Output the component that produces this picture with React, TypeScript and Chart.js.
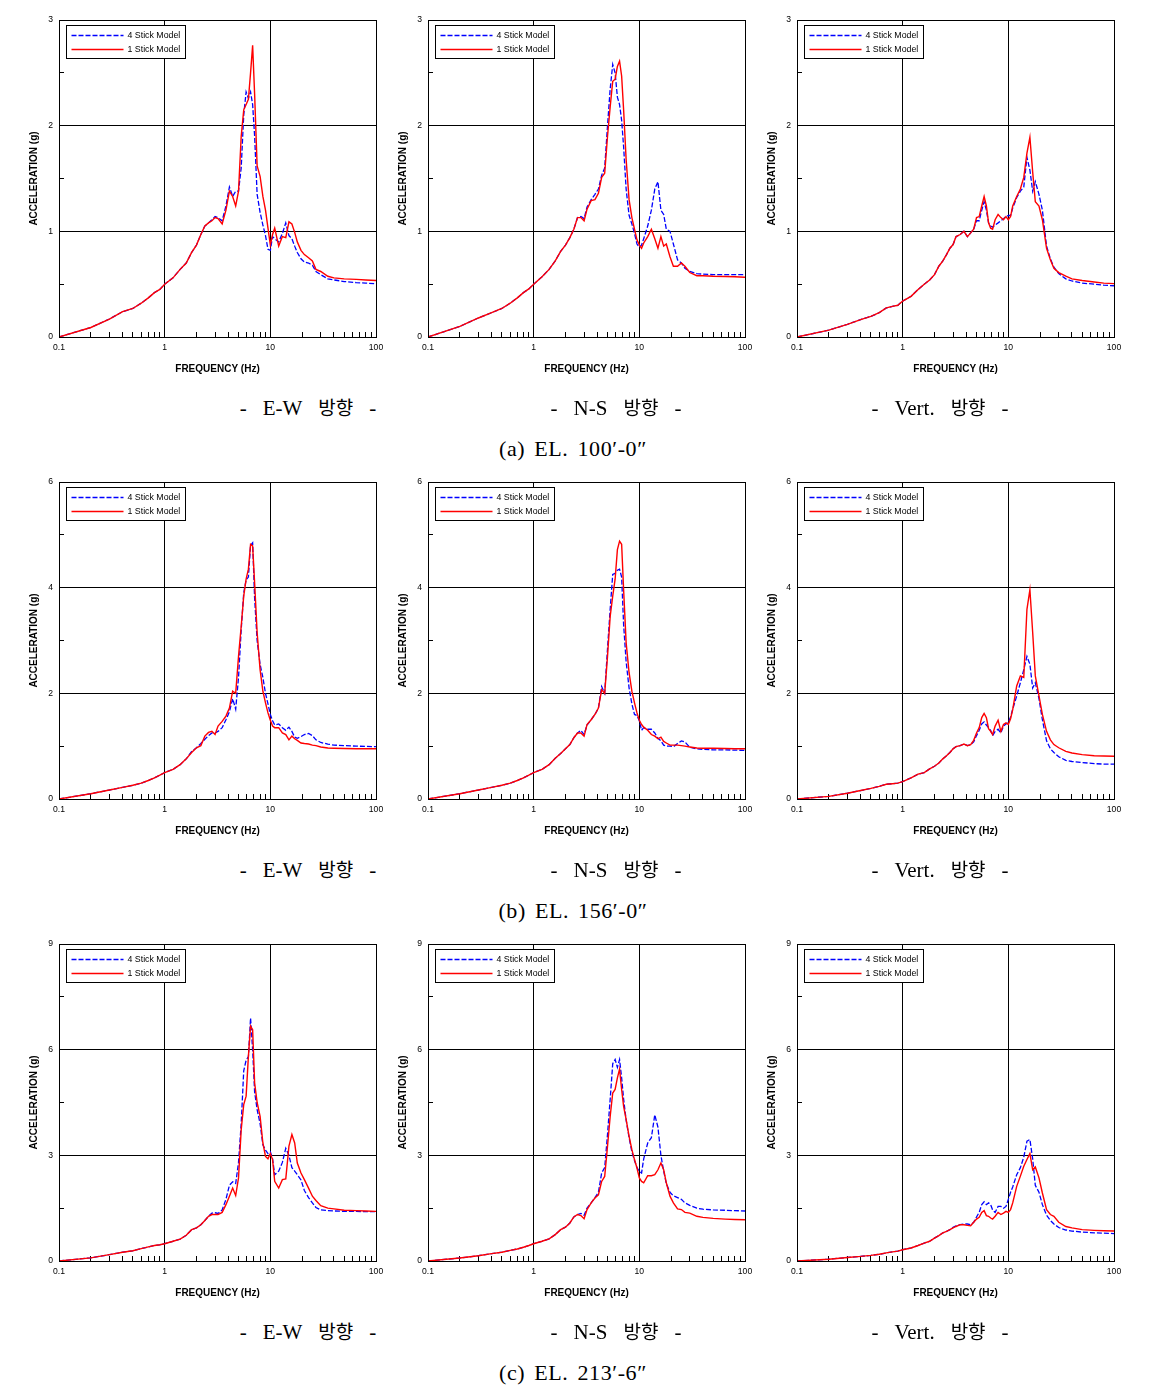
import React, { useEffect, useRef } from 'react';
import { Chart, registerables } from 'chart.js';
Chart.register(...registerables);

// ---------- data ----------
const FREQ = [0.1, 0.2, 0.3, 0.4, 0.5, 0.6, 0.7, 0.8, 0.9, 1.0,
  1.2, 1.4, 1.6, 1.8, 2.0, 2.2, 2.4, 2.6, 2.8, 3.0,
  3.2, 3.5, 3.8, 4.1, 4.4, 4.7, 5.0, 5.3, 5.6, 5.9,
  6.2, 6.5, 6.8, 7.1, 7.5, 8.0, 8.5, 9.0, 9.5, 10,
  10.5, 11, 12, 13, 14, 15, 16, 17, 18, 19.5,
  21, 23, 25, 27, 30, 35, 40, 50, 65, 80, 100];

// (a) EL. 100'-0"
const EW_100_FOUR = [0.0, 0.09, 0.17, 0.24, 0.27, 0.32, 0.37, 0.42, 0.45, 0.50,
  0.56, 0.64, 0.70, 0.80, 0.87, 0.97, 1.05, 1.08, 1.11, 1.14,
  1.13, 1.10, 1.24, 1.42, 1.33, 1.38, 1.38, 1.60, 2.10, 2.32,
  2.26, 2.32, 2.20, 1.90, 1.35, 1.18, 1.06, 0.96, 0.83, 0.82,
  0.95, 0.93, 0.90, 0.98, 1.08, 0.96, 0.93, 0.86, 0.80, 0.74,
  0.71, 0.70, 0.68, 0.62, 0.59, 0.55, 0.54, 0.525, 0.515, 0.51, 0.505];
const EW_100_ONE = [0.0, 0.09, 0.17, 0.24, 0.27, 0.32, 0.37, 0.42, 0.45, 0.50,
  0.56, 0.64, 0.70, 0.80, 0.87, 0.97, 1.05, 1.08, 1.10, 1.13,
  1.12, 1.07, 1.20, 1.38, 1.33, 1.24, 1.38, 1.90, 2.15, 2.20,
  2.25, 2.50, 2.76, 2.30, 1.62, 1.52, 1.33, 1.20, 1.03, 0.87,
  0.97, 1.03, 0.86, 0.95, 0.94, 1.09, 1.07, 0.99, 0.90, 0.82,
  0.78, 0.75, 0.72, 0.64, 0.62, 0.575, 0.56, 0.55, 0.545, 0.54, 0.535];
const NS_100_FOUR = [0.0, 0.10, 0.18, 0.23, 0.27, 0.32, 0.37, 0.42, 0.455, 0.50,
  0.57, 0.64, 0.72, 0.81, 0.87, 0.94, 1.02, 1.13, 1.14, 1.12,
  1.23, 1.30, 1.35, 1.40, 1.53, 1.60, 2.00, 2.35, 2.58, 2.50,
  2.27, 2.20, 2.05, 1.80, 1.40, 1.15, 1.07, 0.98, 0.88, 0.85,
  0.87, 0.93, 1.05, 1.20, 1.40, 1.47, 1.20, 1.16, 1.02, 1.00,
  0.88, 0.73, 0.70, 0.65, 0.62, 0.60, 0.595, 0.59, 0.59, 0.59, 0.59];
const NS_100_ONE = [0.0, 0.10, 0.18, 0.23, 0.27, 0.32, 0.37, 0.42, 0.455, 0.50,
  0.57, 0.64, 0.72, 0.81, 0.87, 0.94, 1.02, 1.13, 1.13, 1.10,
  1.21, 1.29, 1.30, 1.36, 1.51, 1.55, 1.90, 2.18, 2.42, 2.44,
  2.56, 2.61, 2.47, 2.15, 1.68, 1.30, 1.13, 1.02, 0.92, 0.87,
  0.84, 0.89, 0.95, 1.02, 0.93, 0.84, 0.95, 0.86, 0.88, 0.76,
  0.67, 0.67, 0.70, 0.67, 0.61, 0.58, 0.58, 0.575, 0.572, 0.57, 0.565];
const VT_100_FOUR = [0.0, 0.065, 0.12, 0.165, 0.195, 0.23, 0.275, 0.29, 0.30, 0.34,
  0.385, 0.45, 0.50, 0.54, 0.59, 0.67, 0.72, 0.78, 0.84, 0.875,
  0.95, 0.97, 1.00, 0.95, 0.985, 1.02, 1.10, 1.10, 1.20, 1.28,
  1.20, 1.08, 1.05, 1.04, 1.06, 1.08, 1.10, 1.12, 1.14, 1.15,
  1.15, 1.22, 1.32, 1.38, 1.42, 1.70, 1.58, 1.38, 1.47, 1.35,
  1.20, 0.86, 0.74, 0.66, 0.60, 0.55, 0.53, 0.51, 0.50, 0.49, 0.485];
const VT_100_ONE = [0.0, 0.065, 0.12, 0.165, 0.195, 0.23, 0.275, 0.29, 0.30, 0.34,
  0.385, 0.45, 0.50, 0.54, 0.59, 0.67, 0.72, 0.78, 0.84, 0.875,
  0.95, 0.97, 1.00, 0.95, 0.985, 1.02, 1.13, 1.14, 1.24, 1.33,
  1.24, 1.08, 1.03, 1.02, 1.11, 1.16, 1.13, 1.11, 1.14, 1.11,
  1.14, 1.24, 1.33, 1.40, 1.51, 1.74, 1.89, 1.56, 1.28, 1.24,
  1.11, 0.84, 0.73, 0.65, 0.61, 0.575, 0.55, 0.535, 0.52, 0.51, 0.505];

// (b) EL. 156'-0"
const EW_156_FOUR = [0.0, 0.10, 0.17, 0.22, 0.26, 0.30, 0.35, 0.40, 0.45, 0.50,
  0.56, 0.65, 0.76, 0.90, 0.97, 1.05, 1.13, 1.20, 1.25, 1.25,
  1.28, 1.35, 1.50, 1.65, 1.90, 1.70, 2.30, 3.20, 3.90, 4.15,
  4.20, 4.80, 4.85, 3.80, 3.00, 2.55, 2.30, 2.00, 1.80, 1.60,
  1.48, 1.40, 1.42, 1.35, 1.30, 1.36, 1.28, 1.17, 1.15, 1.18,
  1.22, 1.24, 1.20, 1.12, 1.07, 1.04, 1.02, 1.01, 1.00, 0.995, 0.99];
const EW_156_ONE = [0.0, 0.10, 0.17, 0.22, 0.26, 0.30, 0.35, 0.40, 0.45, 0.50,
  0.56, 0.65, 0.76, 0.88, 0.97, 1.01, 1.19, 1.26, 1.28, 1.22,
  1.38, 1.47, 1.57, 1.72, 2.04, 2.00, 2.70, 3.27, 3.84, 4.16,
  4.35, 4.82, 4.79, 4.09, 3.15, 2.45, 2.04, 1.82, 1.63, 1.49,
  1.38, 1.35, 1.35, 1.25, 1.22, 1.12, 1.19, 1.14, 1.11, 1.06,
  1.05, 1.04, 1.02, 1.01, 0.985, 0.965, 0.96, 0.955, 0.95, 0.95, 0.95];
const NS_156_FOUR = [0.0, 0.10, 0.17, 0.22, 0.26, 0.30, 0.35, 0.40, 0.45, 0.50,
  0.56, 0.65, 0.77, 0.86, 0.95, 1.03, 1.16, 1.25, 1.30, 1.22,
  1.40, 1.50, 1.60, 1.72, 2.13, 2.00, 2.85, 3.60, 4.25, 4.27,
  4.33, 4.35, 4.20, 3.30, 2.60, 2.10, 1.80, 1.60, 1.58, 1.48,
  1.30, 1.35, 1.32, 1.32, 1.25, 1.15, 1.10, 1.02, 1.00, 1.00,
  0.99, 1.05, 1.10, 1.08, 0.98, 0.95, 0.94, 0.93, 0.93, 0.925, 0.92];
const NS_156_ONE = [0.0, 0.10, 0.17, 0.22, 0.26, 0.30, 0.35, 0.40, 0.45, 0.50,
  0.56, 0.65, 0.77, 0.86, 0.95, 1.03, 1.16, 1.25, 1.25, 1.19,
  1.41, 1.50, 1.60, 1.72, 2.07, 2.00, 2.70, 3.46, 3.84, 4.16,
  4.72, 4.88, 4.82, 3.96, 2.96, 2.39, 2.04, 1.82, 1.63, 1.49,
  1.41, 1.36, 1.30, 1.22, 1.19, 1.14, 1.17, 1.09, 1.06, 1.02,
  1.02, 1.02, 1.01, 1.00, 0.985, 0.965, 0.96, 0.96, 0.955, 0.95, 0.95];
const VT_156_FOUR = [0.0, 0.05, 0.11, 0.16, 0.20, 0.24, 0.28, 0.29, 0.30, 0.33,
  0.40, 0.47, 0.50, 0.57, 0.62, 0.68, 0.76, 0.82, 0.88, 0.95,
  0.99, 1.01, 1.04, 1.01, 1.03, 1.08, 1.20, 1.30, 1.42, 1.46,
  1.40, 1.35, 1.30, 1.20, 1.28, 1.32, 1.25, 1.38, 1.42, 1.45,
  1.55, 1.70, 1.95, 2.20, 2.45, 2.70, 2.55, 2.10, 2.20, 1.90,
  1.50, 1.10, 0.95, 0.88, 0.80, 0.73, 0.71, 0.69, 0.67, 0.66, 0.66];
const VT_156_ONE = [0.0, 0.05, 0.11, 0.16, 0.20, 0.24, 0.28, 0.29, 0.30, 0.33,
  0.40, 0.47, 0.50, 0.57, 0.62, 0.68, 0.76, 0.82, 0.88, 0.95,
  0.99, 1.01, 1.04, 1.01, 1.03, 1.11, 1.25, 1.35, 1.54, 1.62,
  1.54, 1.33, 1.28, 1.22, 1.38, 1.49, 1.28, 1.41, 1.44, 1.41,
  1.52, 1.69, 2.14, 2.33, 2.30, 3.59, 3.96, 3.15, 2.33, 1.95,
  1.60, 1.28, 1.12, 1.03, 0.97, 0.90, 0.87, 0.84, 0.82, 0.815, 0.81];

// (c) EL. 213'-6"
const EW_213_FOUR = [0.0, 0.09, 0.18, 0.25, 0.29, 0.35, 0.40, 0.44, 0.46, 0.49,
  0.56, 0.62, 0.73, 0.89, 0.94, 1.03, 1.15, 1.27, 1.36, 1.37,
  1.35, 1.45, 1.75, 2.15, 2.25, 2.20, 2.80, 3.90, 5.40, 5.70,
  5.80, 6.90, 6.00, 4.80, 4.30, 3.90, 3.30, 3.15, 3.05, 3.10,
  2.90, 2.45, 2.55, 2.80, 3.20, 3.00, 2.65, 2.55, 2.45, 2.30,
  2.00, 1.80, 1.65, 1.52, 1.45, 1.43, 1.42, 1.41, 1.41, 1.40, 1.40];
const EW_213_ONE = [0.0, 0.09, 0.18, 0.25, 0.29, 0.35, 0.40, 0.44, 0.46, 0.49,
  0.56, 0.62, 0.73, 0.89, 0.94, 1.03, 1.15, 1.27, 1.32, 1.32,
  1.32, 1.38, 1.60, 1.84, 2.07, 1.86, 2.36, 3.73, 4.44, 4.68,
  5.81, 6.67, 6.57, 5.06, 4.50, 4.11, 3.35, 2.97, 2.90, 3.05,
  2.88, 2.26, 2.07, 2.31, 2.33, 3.26, 3.59, 3.35, 2.78, 2.50,
  2.31, 2.07, 1.84, 1.72, 1.57, 1.50, 1.48, 1.44, 1.43, 1.42, 1.41];
const NS_213_FOUR = [0.0, 0.085, 0.15, 0.21, 0.25, 0.30, 0.34, 0.39, 0.44, 0.49,
  0.56, 0.63, 0.75, 0.89, 0.96, 1.08, 1.25, 1.32, 1.35, 1.30,
  1.50, 1.65, 1.80, 1.95, 2.50, 2.65, 3.60, 4.60, 5.60, 5.72,
  5.50, 5.72, 5.20, 4.60, 4.00, 3.50, 3.10, 2.85, 2.65, 2.55,
  2.50, 2.90, 3.35, 3.50, 4.15, 3.80, 3.00, 2.55, 2.20, 1.95,
  1.85, 1.80, 1.75, 1.65, 1.58, 1.50, 1.47, 1.45, 1.44, 1.43, 1.42];
const NS_213_ONE = [0.0, 0.085, 0.15, 0.21, 0.25, 0.30, 0.34, 0.39, 0.44, 0.49,
  0.56, 0.63, 0.75, 0.89, 0.96, 1.08, 1.25, 1.32, 1.29, 1.20,
  1.46, 1.65, 1.79, 1.88, 2.26, 2.40, 3.26, 4.11, 4.77, 4.87,
  5.20, 5.45, 4.87, 4.39, 4.02, 3.54, 3.16, 2.88, 2.64, 2.36,
  2.26, 2.22, 2.42, 2.42, 2.45, 2.59, 2.78, 2.59, 2.22, 1.84,
  1.65, 1.48, 1.46, 1.38, 1.36, 1.27, 1.24, 1.21, 1.19, 1.18, 1.17];
const VT_213_FOUR = [0.0, 0.05, 0.10, 0.13, 0.16, 0.19, 0.23, 0.26, 0.28, 0.32,
  0.37, 0.44, 0.51, 0.56, 0.65, 0.72, 0.80, 0.84, 0.89, 0.96,
  1.00, 1.03, 1.05, 1.05, 1.03, 1.10, 1.25, 1.38, 1.60, 1.68,
  1.60, 1.65, 1.60, 1.45, 1.38, 1.55, 1.55, 1.50, 1.55, 1.75,
  1.95, 2.10, 2.45, 2.65, 2.95, 3.40, 3.45, 2.90, 2.15, 1.95,
  1.60, 1.30, 1.15, 1.05, 0.95, 0.88, 0.85, 0.82, 0.80, 0.79, 0.78];
const VT_213_ONE = [0.0, 0.05, 0.10, 0.13, 0.16, 0.19, 0.23, 0.26, 0.28, 0.32,
  0.37, 0.44, 0.51, 0.56, 0.65, 0.72, 0.80, 0.84, 0.89, 0.94,
  0.98, 1.03, 1.03, 1.01, 1.00, 1.10, 1.19, 1.24, 1.38, 1.43,
  1.29, 1.27, 1.22, 1.19, 1.27, 1.38, 1.32, 1.36, 1.41, 1.38,
  1.46, 1.65, 2.12, 2.41, 2.69, 2.88, 3.05, 2.59, 2.67, 2.36,
  1.93, 1.46, 1.32, 1.27, 1.10, 0.98, 0.94, 0.89, 0.87, 0.86, 0.85];

const Y_MAX = [3, 6, 9];
const X_TICKS = [0.1, 0.2, 0.3, 0.4, 0.5, 0.6, 0.7, 0.8, 0.9, 1, 2, 3, 4, 5, 6, 7, 8, 9, 10, 20, 30, 40, 50, 60, 70, 80, 90, 100];
const X_LABELS = [0.1, 1, 10, 100];
const X_GRID = [1, 10];
const SERIES_LABELS = ['4 Stick Model', '1 Stick Model'];
const DIRECTIONS = ['E-W', 'N-S', 'Vert.'];
const DIRECTION_WORD = '방향';
const ELEVATIONS = [['(a)', 'EL.', '100′-0″'], ['(b)', 'EL.', '156′-0″'], ['(c)', 'EL.', '213′-6″']];
const X_TITLE = 'FREQUENCY (Hz)';
const Y_TITLE = 'ACCELERATION (g)';

const PANELS = [
  [[EW_100_FOUR, EW_100_ONE], [NS_100_FOUR, NS_100_ONE], [VT_100_FOUR, VT_100_ONE]],
  [[EW_156_FOUR, EW_156_ONE], [NS_156_FOUR, NS_156_ONE], [VT_156_FOUR, VT_156_ONE]],
  [[EW_213_FOUR, EW_213_ONE], [NS_213_FOUR, NS_213_ONE], [VT_213_FOUR, VT_213_ONE]],
];

// ---------- layout ----------
const PLOT_LEFT = [59, 428, 797];
const PLOT_TOP = [20, 482, 944];
const PLOT_SIZE = 317;
const PAD_L = 59, PAD_T = 20, PAD_R = 20, PAD_B = 50;
const DIR_CX = [308, 616, 940];
const DIR_CY = [407, 869, 1331];
const ELEV_CX = 573;
const ELEV_CY = [449, 911, 1373];

const SANS = '"Liberation Sans", Arial, sans-serif';
const CLEAR = 'rgba(0,0,0,0)';

const framePlugin = {
  id: 'frameLegend',
  afterDraw(chart: any) {
    const { ctx, chartArea: a } = chart;
    ctx.save();
    ctx.setLineDash([]);
    ctx.strokeStyle = '#000';
    ctx.lineWidth = 1;
    const l = Math.round(a.left - 0.5) + 0.5;
    const t = Math.round(a.top - 0.5) + 0.5;
    const r = Math.round(a.right - 0.5) + 0.5;
    const b = Math.round(a.bottom - 0.5) + 0.5;
    ctx.strokeRect(l, t, r - l, b - t);
    // legend box
    const bx = l + 7, by = t + 5, bw = 119, bh = 33;
    ctx.fillStyle = '#fff';
    ctx.fillRect(bx, by, bw, bh);
    ctx.strokeRect(bx, by, bw, bh);
    chart.data.datasets.forEach((ds: any, i: number) => {
      const y = Math.round(by + 9.5 + i * 13.5) + 0.5;
      ctx.beginPath();
      ctx.setLineDash(ds.borderDash || []);
      ctx.strokeStyle = ds.borderColor;
      ctx.lineWidth = 1.6;
      ctx.moveTo(bx + 5, y);
      ctx.lineTo(bx + 57, y);
      ctx.stroke();
      ctx.setLineDash([]);
      ctx.fillStyle = '#000';
      ctx.font = '8.8px ' + SANS;
      ctx.textBaseline = 'middle';
      ctx.textAlign = 'left';
      ctx.fillText(ds.label, bx + 61, y);
    });
    ctx.restore();
  },
};

function Panel({ row, col }: { row: number; col: number }) {
  const ref = useRef<HTMLCanvasElement>(null);
  const ymax = Y_MAX[row];
  const [four, one] = PANELS[row][col];
  const W = PAD_L + PLOT_SIZE + PAD_R;
  const H = PAD_T + PLOT_SIZE + PAD_B;
  useEffect(() => {
    const step = ymax / 6;
    const major = ymax / 3;
    const isMajorY = (v: number) => Math.abs(v / major - Math.round(v / major)) < 1e-6;
    const chart = new Chart(ref.current as HTMLCanvasElement, {
      type: 'line',
      data: {
        datasets: [
          {
            label: SERIES_LABELS[0],
            data: FREQ.map((f, i) => ({ x: f, y: four[i] })),
            borderColor: '#0000ff',
            borderDash: [5, 2],
            borderWidth: 1.3,
            pointRadius: 0,
            tension: 0,
            order: 1,
          },
          {
            label: SERIES_LABELS[1],
            data: FREQ.map((f, i) => ({ x: f, y: one[i] })),
            borderColor: '#ff0000',
            borderWidth: 1.4,
            pointRadius: 0,
            tension: 0,
            order: 0,
          },
        ],
      } as any,
      options: {
        animation: false,
        responsive: false,
        maintainAspectRatio: false,
        devicePixelRatio: 1,
        layout: { padding: { left: 0, top: PAD_T, right: PAD_R, bottom: 0 } },
        plugins: { legend: { display: false }, tooltip: { enabled: false } },
        scales: {
          x: {
            type: 'logarithmic',
            min: 0.1,
            max: 100,
            afterBuildTicks: (s: any) => { s.ticks = X_TICKS.map((v) => ({ value: v })); },
            afterFit: (s: any) => { s.height = PAD_B; },
            ticks: {
              autoSkip: false,
              maxRotation: 0,
              minRotation: 0,
              padding: 10,
              color: '#000',
              font: { family: SANS, size: 8.6 },
              callback: (v: any) => (X_LABELS.includes(Number(v)) ? String(v) : ''),
            },
            grid: {
              color: (c: any) => (c.tick && X_GRID.includes(c.tick.value) ? '#000' : CLEAR),
              tickColor: '#000',
              tickLength: -5,
              lineWidth: 1,
            },
            border: { display: false },
            title: {
              display: true,
              text: X_TITLE,
              color: '#000',
              font: { family: SANS, size: 10, weight: 'bold' },
              padding: { top: 0, bottom: 12 },
            },
          },
          y: {
            type: 'linear',
            min: 0,
            max: ymax,
            afterFit: (s: any) => { s.width = PAD_L; },
            ticks: {
              stepSize: step,
              autoSkip: false,
              padding: 11,
              color: '#000',
              font: { family: SANS, size: 8.6 },
              callback: (v: any) => (isMajorY(Number(v)) ? String(Math.round(Number(v))) : ''),
            },
            grid: {
              color: (c: any) => {
                const v = c.tick ? c.tick.value : 0;
                return isMajorY(v) && v > 0 && v < ymax ? '#000' : CLEAR;
              },
              tickColor: '#000',
              tickLength: -5,
              lineWidth: 1,
            },
            border: { display: false },
            title: {
              display: true,
              text: Y_TITLE,
              color: '#000',
              font: { family: SANS, size: 10, weight: 'bold' },
              padding: { top: 28, bottom: 0 },
            },
          },
        },
      } as any,
      plugins: [framePlugin],
    });
    return () => chart.destroy();
  }, []);
  return (
    <canvas
      ref={ref}
      width={W}
      height={H}
      style={{ position: 'absolute', left: PLOT_LEFT[col] - PAD_L, top: PLOT_TOP[row] - PAD_T, width: W, height: H }}
    />
  );
}

function Captions({ row }: { row: number }) {
  const serif = '"Liberation Serif", "Times New Roman", serif';
  return (
    <>
      {DIRECTIONS.map((d, col) => (
        <div
          key={d}
          style={{
            position: 'absolute', left: DIR_CX[col], top: DIR_CY[row] - 13, transform: 'translateX(-50%)',
            display: 'flex', alignItems: 'baseline', gap: 16, whiteSpace: 'nowrap',
            fontFamily: serif, fontSize: 21, lineHeight: '26px', color: '#000',
          }}
        >
          <span>-</span>
          <span>{d}</span>
          <span style={{ fontFamily: '"Noto Sans CJK KR", sans-serif', fontSize: 19 }}>{DIRECTION_WORD}</span>
          <span>-</span>
        </div>
      ))}
      <div
        style={{
          position: 'absolute', left: ELEV_CX, top: ELEV_CY[row] - 13, transform: 'translateX(-50%)',
          display: 'flex', alignItems: 'baseline', gap: 9, whiteSpace: 'nowrap',
          fontFamily: serif, fontSize: 22, letterSpacing: '0.6px', lineHeight: '26px', color: '#000',
        }}
      >
        {ELEVATIONS[row].map((t, i) => <span key={i}>{t}</span>)}
      </div>
    </>
  );
}

export default function App() {
  return (
    <div style={{ position: 'absolute', left: 0, top: 0, width: 1160, height: 1398, background: '#fff', overflow: 'hidden' }}>
      {[0, 1, 2].map((row) => (
        <React.Fragment key={row}>
          {[0, 1, 2].map((col) => <Panel key={col} row={row} col={col} />)}
          <Captions row={row} />
        </React.Fragment>
      ))}
    </div>
  );
}
